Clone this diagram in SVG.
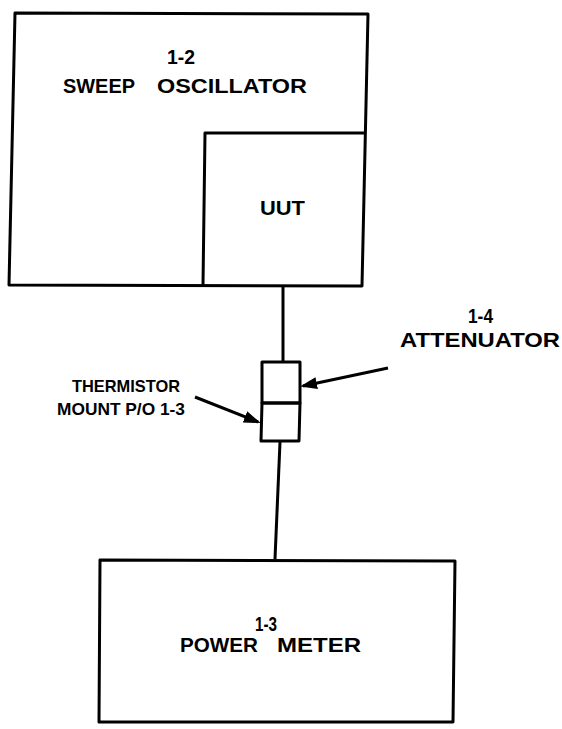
<svg xmlns="http://www.w3.org/2000/svg" width="562" height="729" viewBox="0 0 562 729">
<style>
.box{fill:none;stroke:#000;stroke-width:3;stroke-linejoin:round}
.wire{fill:none;stroke:#000;stroke-width:3}
.lbl{font-family:"Liberation Sans",Arial,Helvetica,sans-serif;font-weight:bold;font-size:21px;fill:#000}
.sm{font-size:17px}
</style>
<defs>
<marker id="ah" markerUnits="userSpaceOnUse" markerWidth="17" markerHeight="12" refX="14" refY="6" orient="auto">
<path d="M0,0 L17,6 L0,12 z" fill="#000"/>
</marker>
</defs>
<rect width="562" height="729" fill="#fff"/>
<g id="sweep-oscillator">
<polygon class="box" points="15,13 368,14 362,286 9,285"/>
<text class="lbl" x="167" y="64" textLength="28" lengthAdjust="spacingAndGlyphs">1-2</text>
<text class="lbl" x="63" y="93" textLength="72" lengthAdjust="spacingAndGlyphs">SWEEP</text>
<text class="lbl" x="157" y="93" textLength="150" lengthAdjust="spacingAndGlyphs">OSCILLATOR</text>
</g>
<g id="uut">
<polyline class="box" points="203,285 205,133 364,133"/>
<text class="lbl" x="260" y="215" textLength="45" lengthAdjust="spacingAndGlyphs">UUT</text>
</g>
<g id="attenuator">
<rect class="box" x="262" y="362" width="38" height="41"/>
</g>
<g id="thermistor-mount">
<polygon class="box" points="262,403 300,403 299,441 261,441"/>
</g>
<g id="power-meter">
<polygon class="box" points="100,560 455,561 453,722 99,722"/>
<text class="lbl" x="255" y="631" textLength="22" lengthAdjust="spacingAndGlyphs">1-3</text>
<text class="lbl" x="180" y="652" textLength="78" lengthAdjust="spacingAndGlyphs">POWER</text>
<text class="lbl" x="277" y="652" textLength="84" lengthAdjust="spacingAndGlyphs">METER</text>
</g>
<g id="label-attenuator">
<text class="lbl" x="468" y="323" textLength="25" lengthAdjust="spacingAndGlyphs">1-4</text>
<text class="lbl" x="400" y="347" textLength="160" lengthAdjust="spacingAndGlyphs">ATTENUATOR</text>
</g>
<g id="label-thermistor">
<text class="lbl sm" x="72" y="392" textLength="108" lengthAdjust="spacingAndGlyphs">THERMISTOR</text>
<text class="lbl sm" x="57" y="415" textLength="128" lengthAdjust="spacingAndGlyphs">MOUNT P/O 1-3</text>
</g>
<g id="connectors">
<line class="wire" x1="283" y1="287" x2="283" y2="361"/>
<line class="wire" x1="280" y1="442" x2="275" y2="559"/>
<line class="wire" x1="388" y1="368" x2="303" y2="386" marker-end="url(#ah)"/>
<line class="wire" x1="195" y1="397" x2="258" y2="422" marker-end="url(#ah)"/>
</g>
</svg>
